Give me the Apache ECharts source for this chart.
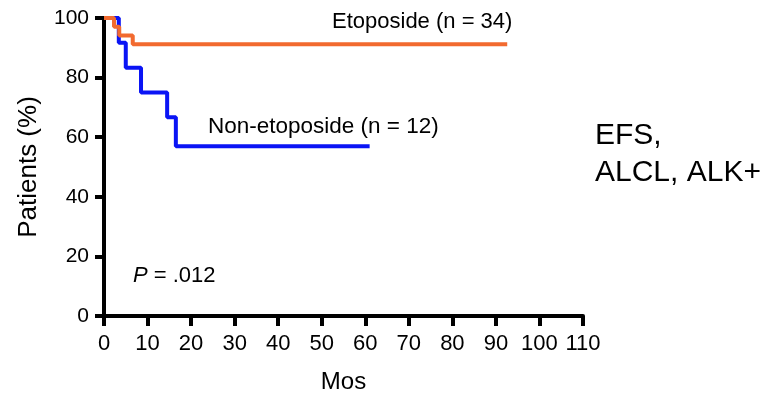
<!DOCTYPE html>
<html>
<head>
<meta charset="utf-8">
<script src="https://cdn.jsdelivr.net/npm/echarts@6/dist/echarts.min.js"></script>
<style>
  html, body { margin: 0; padding: 0; background: #fff; }
  #chart { width: 775px; height: 394px; }
</style>
</head>
<body>
<div id="chart"></div>
<script>
// Kaplan-Meier steps, months vs patients (%)
const etoMonths = [0, 2.3, 3.5, 6.6, 92.6];
const etoValues = [100, 97.1, 94.1, 91.2, 91.2];
const nonEtoMonths = [0, 3.4, 5, 8.5, 14.5, 16.5, 61];
const nonEtoValues = [100, 91.7, 83.3, 75, 66.7, 57, 57];

const xTicks = [0, 10, 20, 30, 40, 50, 60, 70, 80, 90, 100, 110];
const yTicks = [0, 20, 40, 60, 80, 100];

const font = 'Liberation Sans, Arial, sans-serif';

function pairs(xs, ys) {
  return xs.map((x, i) => [x, ys[i]]);
}

function label(text, x, y, size) {
  return {
    type: 'text', x: x, y: y,
    style: { text: text, font: size + 'px ' + font, fill: '#000', verticalAlign: 'middle' }
  };
}

const myChart = echarts.init(document.getElementById('chart'));

let option = {
  animation: false,
  backgroundColor: '#fff',
  grid: { left: 104, right: 192, top: 18, bottom: 78, outerBoundsMode: 'none', containLabel: false },
  xAxis: {
    type: 'value',
    min: xTicks[0],
    max: xTicks[xTicks.length - 1],
    interval: 10,
    name: 'Mos',
    nameLocation: 'middle',
    nameGap: 54,
    nameTextStyle: { fontFamily: font, fontSize: 24, color: '#000' },
    axisLine: { show: true, lineStyle: { color: '#000', width: 4 } },
    axisTick: { show: true, length: 10, lineStyle: { color: '#000', width: 4 } },
    axisLabel: { fontFamily: font, fontSize: 22, color: '#000', margin: 17 },
    splitLine: { show: false }
  },
  yAxis: {
    type: 'value',
    min: yTicks[0],
    max: yTicks[yTicks.length - 1],
    interval: 20,
    name: 'Patients (%)',
    nameLocation: 'middle',
    nameGap: 62,
    nameTextStyle: { fontFamily: font, fontSize: 26, color: '#000' },
    axisLine: { show: true, onZero: false, lineStyle: { color: '#000', width: 4 } },
    axisTick: { show: true, length: 9, lineStyle: { color: '#000', width: 4 } },
    axisLabel: { fontFamily: font, fontSize: 21, color: '#000', margin: 15 },
    splitLine: { show: false }
  },
  series: [
    {
      name: 'Non-etoposide',
      type: 'line',
      step: 'end',
      symbol: 'none',
      data: pairs(nonEtoMonths, nonEtoValues),
      lineStyle: { color: '#0a14f5', width: 4 },
      z: 3
    },
    {
      name: 'Etoposide',
      type: 'line',
      step: 'end',
      symbol: 'none',
      data: pairs(etoMonths, etoValues),
      lineStyle: { color: '#f26a2f', width: 4 },
      z: 4
    }
  ],
  graphic: [
    label('Etoposide (n = 34)', 332, 22, 22),
    label('Non-etoposide (n = 12)', 208, 127, 22.5),
    {
      type: 'text', x: 133, y: 276,
      style: {
        rich: {
          i: { fontFamily: font, fontSize: 22, fontStyle: 'italic', fill: '#000' },
          n: { fontFamily: font, fontSize: 22, fill: '#000' }
        },
        text: '{i|P}{n| = .012}',
        verticalAlign: 'middle'
      }
    },
    label('EFS,', 595, 136, 30),
    label('ALCL, ALK+', 595, 173, 30)
  ]
};

myChart.setOption(option);
</script>
</body>
</html>
